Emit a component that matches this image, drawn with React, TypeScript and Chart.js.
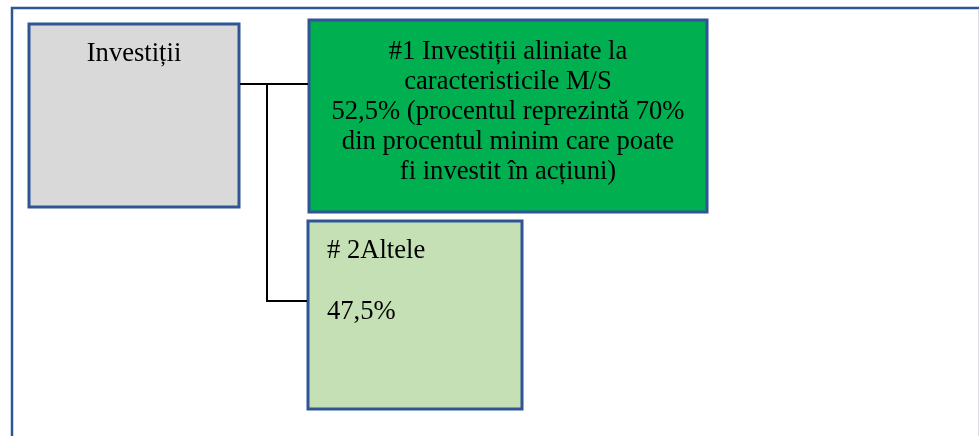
import React, { useEffect, useRef } from "react";
import { Chart, registerables } from "chart.js";

Chart.register(...registerables);

// ---- data ----
const categories = ["Investiții", "#1 Investiții aliniate la caracteristicile M/S", "# 2Altele"];
const shares = [100, 52.5, 47.5];
const rootLines = ["Investiții"];
const alignedLines = [
  "#1 Investiții aliniate la",
  "caracteristicile M/S",
  "52,5% (procentul reprezintă 70%",
  "din procentul minim care poate",
  "fi investit în acțiuni)",
];
const otherLines = ["# 2Altele", "", "47,5%"];

// ---- layout (diagram units == pixels of a 979x436 sheet) ----
const W = 979;
const H = 436;
const BOXES = [
  { x0: 29, y0: 24, x1: 239, y1: 207, fill: "#D9D9D9" },
  { x0: 309, y0: 20, x1: 707, y1: 212, fill: "#00B050" },
  { x0: 308, y0: 221, x1: 522, y1: 409, fill: "#C5E0B4" },
];
const BORDER = "#2F5597";
const FONT = "26.6px 'Liberation Serif', 'Times New Roman', serif";

const diagramPlugin = {
  id: "diagram",
  afterDatasetsDraw(chart: any) {
    const ctx = chart.ctx as CanvasRenderingContext2D;
    const xs = chart.scales.x;
    const ys = chart.scales.y;
    const X = (v: number) => xs.getPixelForValue(v);
    const Y = (v: number) => ys.getPixelForValue(v);
    ctx.save();

    // outer frame
    ctx.strokeStyle = BORDER;
    ctx.lineWidth = 2.5;
    ctx.beginPath();
    ctx.moveTo(X(12), Y(H + 2));
    ctx.lineTo(X(12), Y(8));
    ctx.lineTo(X(W + 2), Y(8));
    ctx.stroke();
    ctx.strokeStyle = "#DADCE6";
    ctx.lineWidth = 1;
    ctx.beginPath();
    ctx.moveTo(X(978.5), Y(9));
    ctx.lineTo(X(978.5), Y(H + 2));
    ctx.stroke();

    // boxes
    BOXES.forEach((b, i) => {
      if (shares[i] == null) return;
      const x = X(b.x0), y = Y(b.y0), w = X(b.x1) - x, h = Y(b.y1) - y;
      ctx.fillStyle = b.fill;
      ctx.fillRect(x, y, w, h);
      ctx.strokeStyle = BORDER;
      ctx.lineWidth = 3;
      ctx.strokeRect(x, y, w, h);
    });

    // connectors
    ctx.strokeStyle = "#000000";
    ctx.lineWidth = 2;
    ctx.beginPath();
    ctx.moveTo(X(240), Y(84));
    ctx.lineTo(X(308), Y(84));
    ctx.stroke();
    ctx.beginPath();
    ctx.moveTo(X(267), Y(84));
    ctx.lineTo(X(267), Y(301));
    ctx.lineTo(X(307), Y(301));
    ctx.stroke();

    // texts
    ctx.fillStyle = "#000000";
    ctx.font = FONT;
    ctx.textBaseline = "alphabetic";
    ctx.textAlign = "center";
    rootLines.forEach((t, i) => ctx.fillText(t, X(134), Y(61 + i * 30)));
    alignedLines.forEach((t, i) => ctx.fillText(t, X(508), Y(59 + i * 30)));
    ctx.textAlign = "left";
    otherLines.forEach((t, i) => ctx.fillText(t, X(327), Y(258 + i * 30.5)));

    ctx.restore();
  },
};

export default function App() {
  const ref = useRef<HTMLCanvasElement | null>(null);
  useEffect(() => {
    if (!ref.current) return;
    const chart = new Chart(ref.current, {
      type: "scatter",
      data: {
        labels: categories,
        datasets: [
          {
            label: "Investiții",
            data: BOXES.map((b, i) => ({ x: (b.x0 + b.x1) / 2, y: (b.y0 + b.y1) / 2, v: shares[i] })) as any,
            pointRadius: 0,
            pointHoverRadius: 0,
          },
        ],
      },
      options: {
        animation: false,
        responsive: false,
        devicePixelRatio: 1,
        layout: { padding: 0 },
        plugins: { legend: { display: false }, tooltip: { enabled: false } },
        events: [],
        scales: {
          x: { type: "linear", min: 0, max: W, display: false },
          y: { type: "linear", min: 0, max: H, reverse: true, display: false },
        },
      },
      plugins: [diagramPlugin],
    });
    return () => chart.destroy();
  }, []);
  return (
    <div style={{ position: "fixed", left: 0, top: 0, width: W, height: H, background: "#FFFFFF" }}>
      <canvas ref={ref} width={W} height={H} style={{ display: "block" }} />
    </div>
  );
}
